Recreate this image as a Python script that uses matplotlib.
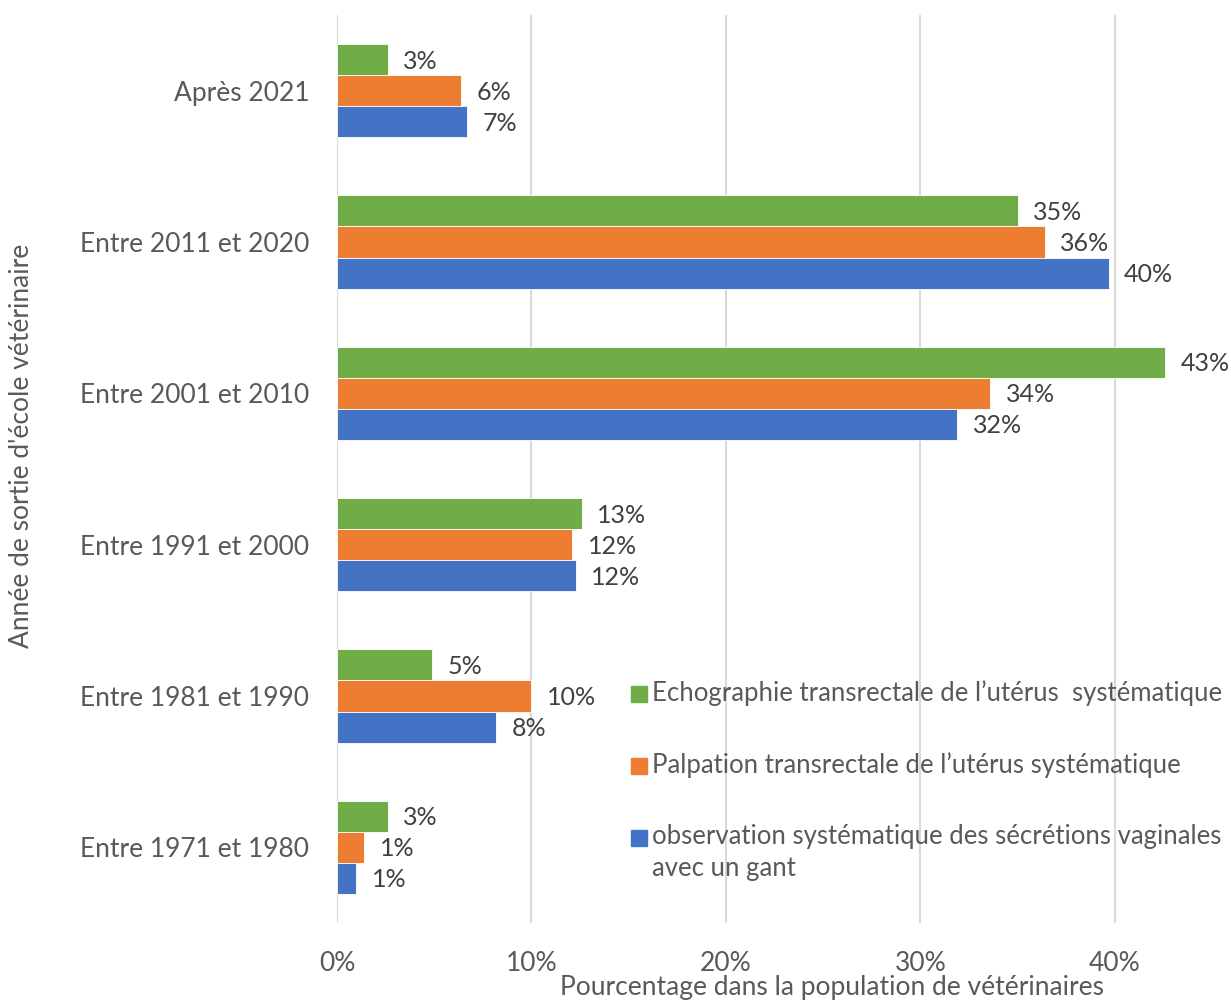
import matplotlib

matplotlib.use("Agg")
import matplotlib.pyplot as plt
import numpy as np
from matplotlib.patches import Rectangle

# Données (en %)
categories = ["Après 2021", "Entre 2011 et 2020", "Entre 2001 et 2010",
              "Entre 1991 et 2000", "Entre 1981 et 1990", "Entre 1971 et 1980"]
echographie = [2.6, 35.0, 42.6, 12.6, 4.9, 2.6]
palpation = [6.4, 36.4, 33.6, 12.1, 10.0, 1.4]
observation = [6.7, 39.7, 31.9, 12.3, 8.2, 1.0]
series_noms = ["Echographie transrectale de l\u2019utérus  systématique",
               "Palpation transrectale de l\u2019utérus systématique",
               "observation systématique des sécrétions vaginales\navec un gant"]
xticks = [0, 10, 20, 30, 40]

VERT, ORANGE, BLEU = "#70AD47", "#ED7D31", "#4472C4"
GRIS = "#595959"
TAILLE = 19
W, H = 1231, 1001
plt.rcParams["font.family"] = ["Lato", "DejaVu Sans"]

fig = plt.figure(figsize=(W / 100, H / 100), dpi=100)
ax = fig.add_axes([337 / W, 1 - 923 / H, (1212 - 337) / W, (923 - 15) / H])

y = np.arange(len(categories))
h = 0.205
for vals, dec, coul in [(echographie, -h, VERT), (palpation, 0, ORANGE), (observation, h, BLEU)]:
    barres = ax.barh(y + dec, vals, height=h, color=coul, edgecolor="white", linewidth=0.6, zorder=2)
    for b, v in zip(barres, vals):
        ax.annotate(f"{v:.0f}%", (b.get_width(), b.get_y() + b.get_height() / 2),
                    xytext=(11, -1), textcoords="offset points", va="center", ha="left",
                    fontsize=18, color="#404040")

ax.set_xlim(0, 45)
ax.set_ylim(len(categories) - 0.5, -0.5)
ax.set_xticks(xticks)
ax.set_xticklabels([f"{t}%" for t in xticks])
ax.set_yticks(y)
ax.set_yticklabels(categories)
ax.grid(axis="x", color="#D9D9D9", linewidth=1.5, zorder=0)
ax.tick_params(length=0, labelsize=TAILLE, labelcolor=GRIS)
ax.tick_params(axis="x", pad=20)
ax.tick_params(axis="y", pad=20)
for s in ax.spines.values():
    s.set_visible(False)

fig.text(832 / W, 1 - 988 / H, "Pourcentage dans la population de vétérinaires",
         fontsize=TAILLE, color=GRIS, ha="center", va="center")
fig.text(22 / W, 1 - 446 / H, "Année de sortie d'école vétérinaire", rotation=90,
         fontsize=TAILLE, color=GRIS, ha="center", va="center")

# Légende dessinée à la main : le carré s'aligne sur la première ligne du texte (comme Excel)
for i, (nom, coul) in enumerate(zip(series_noms, (VERT, ORANGE, BLEU))):
    yc = 694 + 72 * i
    fig.add_artist(Rectangle((631 / W, 1 - (yc + 8) / H), 16 / W, 16 / H,
                             transform=fig.transFigure, color=coul))
    fig.text(652 / W, 1 - (yc - 14) / H, nom, fontsize=18.5, color=GRIS,
             ha="left", va="top", linespacing=1.35)

fig.savefig("out.png", dpi=100)
